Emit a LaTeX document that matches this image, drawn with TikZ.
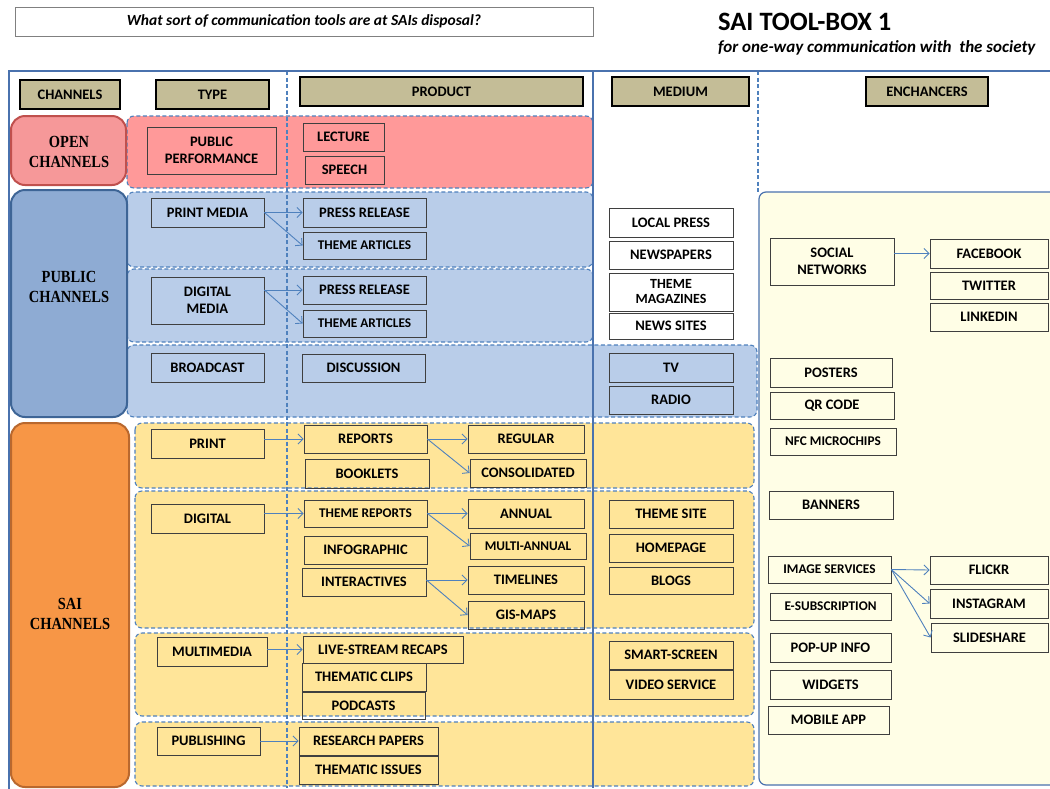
\documentclass[tikz,border=0pt]{standalone}
\usepackage{fontspec}
\setmainfont{Carlito}
\newfontfamily\chanfont[FakeStretch=0.85]{Liberation Serif}
\usetikzlibrary{arrows.meta}

\definecolor{frameblue}{HTML}{4A72AE}
\definecolor{dashblue}{HTML}{4F81BD}
\definecolor{tanfill}{HTML}{C4BD97}
\definecolor{boxline}{HTML}{3F3F3F}
\definecolor{pinkband}{HTML}{FF9999}
\definecolor{pinkchan}{HTML}{F69899}
\definecolor{pinkline}{HTML}{C0504D}
\definecolor{blueband}{HTML}{B9CDE9}
\definecolor{bluechan}{HTML}{8EABD3}
\definecolor{blueline}{HTML}{3E6596}
\definecolor{sandband}{HTML}{FFE599}
\definecolor{orangechan}{HTML}{F79646}
\definecolor{orangeline}{HTML}{B9682E}
\definecolor{cream}{HTML}{FFFEE6}

% box given by its corners: [style] {name} {x1} {x2} {y1} {y2} {text}
\newcommand\cellbox[7][]{%
  \node[box,#1,minimum width={(#4)-(#3)},minimum height={(#6)-(#5)}]
    (#2) at ({((#3)+(#4))/2},{((#5)+(#6))/2}) {#7};}
% dashed background band: {fill} {x1} {y1} {x2} {y2}
\newcommand\bandrect[5]{%
  \draw[band,fill=#1] (#2,#3) rectangle (#4,#5);}

\begin{document}
\begin{tikzpicture}[x=1pt,y=-1pt,
  box/.style={draw=boxline,line width=0.8pt,inner sep=1pt,align=center,
    text=black,font=\bfseries\fontsize{14.5}{17}\selectfont},
  sm/.style={font=\bfseries\fontsize{13.3}{15}\selectfont},
  head/.style={draw=black,line width=1.8pt,fill=tanfill},
  chan/.style={rounded corners=14pt,line width=2pt,inner sep=0pt},
  chanlabel/.style={align=center,inner sep=0pt,text=black,
    font=\chanfont\bfseries\fontsize{17}{20}\selectfont},
  band/.style={draw=dashblue,line width=1.1pt,dash pattern=on 4pt off 2.5pt,
    rounded corners=7pt},
  vdash/.style={draw=dashblue,line width=1.1pt,dash pattern=on 4pt off 2.5pt},
  arr/.style={draw=dashblue,line width=0.9pt,
    -{Straight Barb[length=5pt,width=10pt]}},
]
\clip (0,0) rectangle (1050,788);
\fill[white] (0,0) rectangle (1050,788);

% heading
\node[draw=gray,line width=0.8pt,minimum width=578,minimum height=29,
  font=\bfseries\itshape\fontsize{15.5}{17}\selectfont] (question) at (304,21.5)
  {What sort of communication tools are at SAIs disposal?};
\node[anchor=west,inner sep=0,font=\bfseries\fontsize{26.5}{28}\selectfont]
  (title) at (718,22) {SAI TOOL-BOX 1};
\node[anchor=west,inner sep=0,font=\bfseries\itshape\fontsize{17}{19}\selectfont]
  (subtitle) at (718,48) {for one-way communication with \ the society};

% background bands
\bandrect{pinkband}{127}{116}{593}{188}
\bandrect{blueband}{127}{192}{593}{267}
\bandrect{blueband}{127}{269}{593}{342}
\bandrect{blueband}{127}{345}{757}{417}
\bandrect{sandband}{135}{423}{754}{488}
\bandrect{sandband}{135}{491}{754}{628}
\bandrect{sandband}{135}{633}{754}{716}
\bandrect{sandband}{135}{722}{754}{786}

% enhancers panel
\draw[frameblue,line width=1.2pt,fill=cream,rounded corners=7pt]
  (759,192) rectangle (1080,785);

% column separators and outer frame
\draw[vdash] (287,71) -- (287,788);
\draw[vdash] (758,71) -- (758,192);
\draw[frameblue,line width=1.3pt] (593,71) -- (593,788);
\draw[frameblue,line width=1.6pt] (9,71) rectangle (1080,800);

% channels
\cellbox[chan,draw=pinkline,fill=pinkchan]{open}{11}{126}{116}{185}{}
\cellbox[chan,draw=blueline,fill=bluechan]{public}{11}{127}{190}{417}{}
\cellbox[chan,draw=orangeline,fill=orangechan]{sai}{11}{129}{423}{787}{}
\node[chanlabel] (openlabel) at (69,151.5) {OPEN\\CHANNELS};
\node[chanlabel] (publiclabel) at (69,287) {PUBLIC\\CHANNELS};
\node[chanlabel] (sailabel) at (70,614) {SAI\\CHANNELS};

% column headings
\cellbox[head]{hchan}{20}{120}{80}{109}{CHANNELS}
\cellbox[head]{htype}{156}{269}{80}{109}{TYPE}
\cellbox[head]{hprod}{300}{583}{77}{106}{PRODUCT}
\cellbox[head]{hmed}{612}{749}{77}{106}{MEDIUM}
\cellbox[head]{henh}{866}{988}{77}{106}{ENCHANCERS}

% open channels
\cellbox{perf}{147}{276}{127}{174}{PUBLIC\\PERFORMANCE}
\cellbox{lecture}{303}{384}{123}{151}{LECTURE}
\cellbox{speech}{305}{384}{156}{184}{SPEECH}

% public channels
\cellbox{pm}{151}{264}{198}{227}{PRINT MEDIA}
\cellbox{prA}{303}{426}{198}{227}{PRESS RELEASE}
\cellbox[sm]{taA}{303}{426}{232}{259}{THEME ARTICLES}
\cellbox{dm}{151}{264}{277}{324}{DIGITAL\\MEDIA}
\cellbox{prB}{303}{426}{276}{304}{PRESS RELEASE}
\cellbox[sm]{taB}{303}{426}{310}{337}{THEME ARTICLES}
\cellbox{bc}{151}{264}{353}{382}{BROADCAST}
\cellbox{disc}{302}{425}{354}{382}{DISCUSSION}

\cellbox{lp}{609}{733}{208}{237}{LOCAL PRESS}
\cellbox{np}{609}{733}{241}{269}{NEWSPAPERS}
\cellbox[font=\bfseries\fontsize{14}{15}\selectfont]{tm}{609}{733}{273}{311}{THEME\\MAGAZINES}
\cellbox{ns}{609}{733}{313}{339}{NEWS SITES}
\cellbox{tv}{609}{733}{353}{382}{TV}
\cellbox{radio}{609}{733}{386}{414}{RADIO}

% SAI channels
\cellbox{print}{151}{264}{429}{458}{PRINT}
\cellbox{rep}{304}{427}{425}{453}{REPORTS}
\cellbox{book}{305}{429}{459}{488}{BOOKLETS}
\cellbox{reg}{468}{584}{425}{453}{REGULAR}
\cellbox{cons}{470}{586}{459}{487}{CONSOLIDATED}
\cellbox{dig}{151}{264}{504}{533}{DIGITAL}
\cellbox[sm]{tr}{304}{427}{500}{527}{THEME REPORTS}
\cellbox{info}{304}{427}{536}{564}{INFOGRAPHIC}
\cellbox{inter}{302}{426}{568}{596}{INTERACTIVES}
\cellbox{annual}{468}{584}{499}{528}{ANNUAL}
\cellbox[sm]{multi}{470}{586}{533}{559}{MULTI-ANNUAL}
\cellbox{timel}{468}{584}{566}{594}{TIMELINES}
\cellbox{gis}{468}{584}{601}{629}{GIS-MAPS}
\cellbox{tsite}{609}{733}{500}{528}{THEME SITE}
\cellbox{home}{609}{733}{534}{562}{HOMEPAGE}
\cellbox{blogs}{609}{733}{567}{594}{BLOGS}

\cellbox{mm}{157}{267}{637}{666}{MULTIMEDIA}
\cellbox{live}{303}{463}{636}{663}{LIVE-STREAM RECAPS}
\cellbox{clips}{302}{426}{663}{691}{THEMATIC CLIPS}
\cellbox{pod}{302}{425}{692}{719}{PODCASTS}
\cellbox{smart}{609}{733}{641}{669}{SMART-SCREEN}
\cellbox{video}{609}{733}{670}{699}{VIDEO SERVICE}

\cellbox{pub}{157}{260}{727}{755}{PUBLISHING}
\cellbox{rp}{299}{438}{727}{755}{RESEARCH PAPERS}
\cellbox{ti}{299}{438}{756}{784}{THEMATIC ISSUES}

% enhancers
\cellbox{sn}{770}{894}{238}{285}{SOCIAL\\NETWORKS}
\cellbox{fb}{930}{1048}{239}{268}{FACEBOOK}
\cellbox{tw}{930}{1048}{272}{299}{TWITTER}
\cellbox{li}{930}{1048}{303}{331}{LINKEDIN}
\cellbox{post}{770}{892}{358}{387}{POSTERS}
\cellbox{qr}{770}{894}{392}{419}{QR CODE}
\cellbox[sm]{nfc}{770}{896}{428}{455}{NFC MICROCHIPS}
\cellbox{ban}{769}{893}{491}{519}{BANNERS}
\cellbox[sm]{img}{768}{891}{556}{583}{IMAGE SERVICES}
\cellbox[sm]{esub}{770}{891}{593}{620}{E-SUBSCRIPTION}
\cellbox{flickr}{930}{1048}{556}{584}{FLICKR}
\cellbox{insta}{930}{1048}{589}{618}{INSTAGRAM}
\cellbox{slide}{931}{1048}{623}{652}{SLIDESHARE}
\cellbox{popup}{770}{891}{633}{662}{POP-UP INFO}
\cellbox{widg}{770}{891}{670}{699}{WIDGETS}
\cellbox{mob}{768}{889}{706}{734}{MOBILE APP}

% connectors
\draw[arr] (pm.east |- prA.west) -- (prA.west);
\draw[arr] (pm.east |- prA.west) -- (taA.west);
\draw[arr] (dm.east |- prB.west) -- (prB.west);
\draw[arr] (dm.east |- prB.west) -- (taB.west);
\draw[arr] (print.east |- rep.west) -- (rep.west);
\draw[arr] (rep.east) -- (reg.west);
\draw[arr] (rep.east) -- (cons.west);
\draw[arr] (dig.east |- tr.west) -- (tr.west);
\draw[arr] (tr.east) -- (annual.west);
\draw[arr] (tr.east) -- (multi.west);
\draw[arr] (inter.east |- timel.west) -- (timel.west);
\draw[arr] (inter.east |- timel.west) -- (gis.west);
\draw[arr] (mm.east |- live.west) -- (live.west);
\draw[arr] (pub.east) -- (rp.west);
\draw[arr] (sn.east |- fb.west) -- (fb.west);
\draw[arr] (img.east) -- (flickr.west);
\draw[arr] (img.east) -- (insta.west);
\draw[arr] (img.east) -- (slide.west);
\end{tikzpicture}
\end{document}
